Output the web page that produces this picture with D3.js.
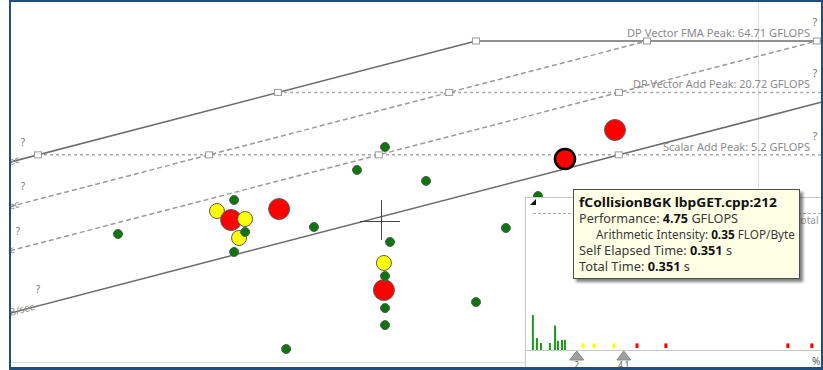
<!DOCTYPE html>
<html><head><meta charset="utf-8">
<script src="https://cdn.jsdelivr.net/npm/d3@7"></script>
<style>body{margin:0;background:#fff}svg{display:block}</style>
</head><body>
<svg id="c" width="823" height="370"></svg>
<script>
// ---------------- data ----------------
const computeNames = ["DP Vector FMA Peak", "DP Vector Add Peak", "Scalar Add Peak"];
const computeValues = [64.71, 20.72, 5.2];            // GFLOPS
const memNames = ["L1 Bandwidth", "L2 Bandwidth", "L3 Bandwidth", "DRAM Bandwidth"];
const memValues = [308.7, 115.3, 43.4, 10.9];         // GB/sec
const memVisibleChars = [2, 2, 1, 5];                 // only the label tails show at the left edge

// loops (arithmetic intensity FLOP/Byte, performance GFLOPS), in drawing order
const pointAI   = [0.0472, 0.0512, 0.0555, 0.0536, 0.0675, 0.1234, 0.1234, 0.4667,
                   0.0267, 0.0521, 0.0555, 0.0521, 0.0825, 0.1057, 0.1242, 0.1573,
                   0.1278, 0.1242, 0.1242, 0.1242, 0.0703, 0.2097, 0.2491, 0.2996];
const pointPerf = [1.50, 1.23, 1.257, 0.826, 1.568, 0.261, 0.475, 9.02,
                   0.902, 1.915, 0.943, 0.606, 1.053, 3.72, 6.19, 2.92,
                   0.756, 0.356, 0.175, 0.120, 0.0707, 0.200, 1.030, 2.09];
const pointKind = ["yellow","red","yellow","yellow","red","red","yellow","red",
                   "green","green","green","green","green","green","green","green",
                   "green","green","green","green","green","green","green","green"];

// selected loop (tooltip)
const selName = "fCollisionBGK lbpGET.cpp:212";
const selPerf = 4.75, selAI = 0.35, selSelf = 0.351, selTotal = 0.351;

// histogram (bottom-right panel)
const histPos  = [0.04, 0.22, 0.40, 0.80, 1.03, 1.16, 1.34, 1.47, 2.28, 2.77, 3.66, 4.69, 5.98, 11.43, 12.5];
const histVal  = [10, 3.4, 2, 2, 7, 2.6, 2.9, 2.9, 1.6, 1.6, 1.6, 1.6, 1.6, 1.6, 1.6];
const histKind = ["green","green","green","green","green","green","green","green",
                  "yellow","yellow","yellow","red","red","red","red"];
const histMarks = [2, 4.1];
const histMarkLabels = ["2", "4.1"];

// ---------------- drawing ----------------
const svg = d3.select("#c");
const x = d3.scaleLog().domain([0.01434, 1.5368]).range([10, 822]);
const y = d3.scaleLog().domain([0.05303, 153.4]).range([362, 2]);
const fill = {green:"#0b760b", yellow:"#ffff00", red:"#ff0000"};
const font = "'Noto Sans','Open Sans',sans-serif";

const defs = svg.append("defs");
defs.append("clipPath").attr("id","plotclip").append("rect")
  .attr("x",11).attr("y",2).attr("width",811).attr("height",360);
defs.append("clipPath").attr("id","panelclip").append("rect")
  .attr("x",526).attr("y",198).attr("width",296).attr("height",168);
const f = defs.append("filter").attr("id","shadow").attr("x","-10%").attr("y","-10%").attr("width","130%").attr("height","140%");
f.append("feGaussianBlur").attr("in","SourceAlpha").attr("stdDeviation",1.5).attr("result","b");
f.append("feOffset").attr("in","b").attr("dx",3).attr("dy",3).attr("result","o");
f.append("feComponentTransfer").attr("in","o").attr("result","o2")
  .append("feFuncA").attr("type","linear").attr("slope",0.5);
const fm = f.append("feMerge"); fm.append("feMergeNode").attr("in","o2"); fm.append("feMergeNode").attr("in","SourceGraphic");

const plot = svg.append("g").attr("clip-path","url(#plotclip)");
const labels = svg.append("g");

// light vertical grid line
plot.append("line").attr("x1",758.5).attr("x2",758.5).attr("y1",2).attr("y2",200)
  .attr("stroke","#e0e0e0").attr("stroke-width",1);

const line = d3.line().x(d=>x(d[0])).y(d=>y(d[1]));
const memStyle = [{dash:null,color:"#6b6b6b",w:1.5},{dash:"5,3",color:"#9a9a9a",w:1.5},
                  {dash:"5,3",color:"#9a9a9a",w:1.5},{dash:null,color:"#6b6b6b",w:1.5}];
const compStyle = [{dash:null,color:"#6b6b6b",w:1.5},{dash:"3,3",color:"#a8a8a8",w:1.5},
                   {dash:"3,3",color:"#a8a8a8",w:1.5}];
const [aiMin, aiMax] = x.domain();

// compute roofs (horizontal)
computeValues.forEach((p,j)=>{
  const a0 = p/memValues[0];
  plot.append("path").attr("d", line([[a0,p],[aiMax,p]]))
    .attr("fill","none").attr("stroke",compStyle[j].color).attr("stroke-width",compStyle[j].w)
    .attr("stroke-dasharray",compStyle[j].dash);
});
// memory roofs (diagonal)
memValues.forEach((bw,i)=>{
  const a1 = Math.min(computeValues[0]/bw, aiMax);
  plot.append("path").attr("d", line([[aiMin,bw*aiMin],[a1,bw*a1]]))
    .attr("fill","none").attr("stroke",memStyle[i].color).attr("stroke-width",memStyle[i].w)
    .attr("stroke-dasharray",memStyle[i].dash);
});
// intersection markers
memValues.forEach(bw=>{
  computeValues.forEach(p=>{
    const a = p/bw;
    if (a>=aiMin && a<=aiMax) {
      plot.append("rect").attr("x",x(a)-3.5).attr("y",y(p)-3).attr("width",7).attr("height",6)
        .attr("fill","#fff").attr("stroke","#999").attr("stroke-width",1);
    }
  });
});

// compute labels (right)
computeValues.forEach((p,j)=>{
  labels.append("text").attr("x",810).attr("y",y(p)-4).attr("text-anchor","end")
    .attr("font-family",font).attr("font-size",11).attr("fill","#8a8a8a")
    .attr("textLength",[183,177,147][j]).attr("lengthAdjust","spacingAndGlyphs")
    .text(`${computeNames[j]}: ${p} GFLOPS`);
  labels.append("text").attr("x",815).attr("y",y(p)-15).attr("text-anchor","middle")
    .attr("font-family",font).attr("font-size",11).attr("fill","#777").text("?");
});
// memory labels (left edge: only their tails are visible)
const angle = Math.atan2(y(1)-y(10), x(10)-x(1))*180/Math.PI;
const memLabelEnd = [20, 20, 15, 35];
memValues.forEach((bw,i)=>{
  const ex = memLabelEnd[i];
  const ey = y(bw*x.invert(ex));
  const full = `${memNames[i]}: ${bw} GB/sec`;
  labels.append("text").attr("transform",`translate(${ex},${ey+3}) rotate(${-angle})`)
    .attr("text-anchor","end").attr("font-family",font).attr("font-size",10).attr("fill","#8a8a8a")
    .text(full.slice(-memVisibleChars[i]));
  labels.append("text").attr("x",ex+3).attr("y",ey-14).attr("text-anchor","middle")
    .attr("font-family",font).attr("font-size",10).attr("fill","#777").text("?");
});

// loops
const r = {green:4.5, yellow:7.5, red:10.5};
plot.selectAll("circle.pt").data(pointAI.map((a,i)=>({a, p:pointPerf[i], k:pointKind[i]})))
  .join("circle").attr("class","pt")
  .attr("cx",d=>x(d.a)).attr("cy",d=>y(d.p)).attr("r",d=>r[d.k])
  .attr("fill",d=>fill[d.k]).attr("stroke","#5a5a5a").attr("stroke-width",1);

// bottom edge of plot
svg.append("line").attr("x1",11).attr("x2",526).attr("y1",362.5).attr("y2",362.5).attr("stroke","#dcdcdc");

// crosshair cursor
svg.append("line").attr("x1",381.5).attr("x2",381.5).attr("y1",200).attr("y2",240).attr("stroke","#444");
svg.append("line").attr("x1",360).attr("x2",400).attr("y1",221.5).attr("y2",221.5).attr("stroke","#444");

// histogram panel
const panel = svg.append("g");
panel.append("rect").attr("x",525.5).attr("y",197.5).attr("width",300).attr("height",172)
  .attr("fill","#fff").attr("stroke","#c8c8c8");
const pg = panel.append("g").attr("clip-path","url(#panelclip)");
pg.append("path").attr("d","M530,205L536,205L536,199Z").attr("fill","#111");
pg.append("line").attr("x1",533).attr("x2",822).attr("y1",213.5).attr("y2",213.5)
  .attr("stroke","#aaa").attr("stroke-dasharray","3,2");
panel.append("text").attr("x",797).attr("y",224).attr("font-family",font).attr("font-size",10)
  .attr("fill","#999").text("total");
const hx = d3.scaleLinear().domain([0,13]).range([532,823]);
const hy = d3.scaleLinear().domain([0,10]).range([350,315]);
pg.append("line").attr("x1",526).attr("x2",822).attr("y1",350.5).attr("y2",350.5).attr("stroke","#c8c8c8");
pg.selectAll("rect.hb").data(histPos.map((p,i)=>({p, v:histVal[i], k:histKind[i]})))
  .join("rect").attr("class","hb")
  .attr("x",d=>hx(d.p)-(d.k==="green"?1:1.5)).attr("width",d=>d.k==="green"?2:3)
  .attr("y",d=>d.k==="green"?hy(d.v):hy(d.v)-1).attr("height",d=>d.k==="green"?hy(0)-hy(d.v):hy(0)-hy(d.v)-1)
  .attr("fill",d=>d.k==="green"?"#1a9a1a":fill[d.k]);
histMarks.forEach((m,i)=>{
  const cx = hx(m);
  pg.append("path").attr("d",`M${cx-7},360L${cx+7},360L${cx},351Z`).attr("fill","#a0a0a0").attr("stroke","#888");
  panel.append("text").attr("x",cx).attr("y",368).attr("text-anchor","middle")
    .attr("font-family",font).attr("font-size",8).attr("fill","#555").text(histMarkLabels[i]);
});
panel.append("text").attr("x",812).attr("y",365).attr("font-family",font).attr("font-size",10)
  .attr("fill","#555").text("%");

// selected loop
svg.append("circle").attr("cx",x(selAI)).attr("cy",y(selPerf)).attr("r",10)
  .attr("fill","#ff0000").attr("stroke","#000").attr("stroke-width",2.5);

// tooltip
const tip = svg.append("g");
tip.append("rect").attr("x",573.5).attr("y",189.5).attr("width",226).attr("height",89)
  .attr("fill","#ffffe6").attr("stroke","#505050").attr("filter","url(#shadow)");
const tipLines = [
  {x:579, w:198, parts:[[selName,true]]},
  {x:579, w:159, parts:[["Performance: ",false],[selPerf.toFixed(2),true],[" GFLOPS",false]]},
  {x:596, w:199, parts:[["Arithmetic Intensity: ",false],[selAI.toFixed(2),true],[" FLOP/Byte",false]]},
  {x:579, w:153, parts:[["Self Elapsed Time: ",false],[selSelf.toFixed(3),true],[" s",false]]},
  {x:579, w:111, parts:[["Total Time: ",false],[selTotal.toFixed(3),true],[" s",false]]}
];
tipLines.forEach((ln,i)=>{
  const t = tip.append("text").attr("x",ln.x).attr("y",207+i*16)
    .attr("font-family",font).attr("font-size",i===0?12.5:12)
    .attr("textLength",ln.w).attr("lengthAdjust","spacingAndGlyphs");
  ln.parts.forEach(([s,b])=>{
    t.append("tspan").attr("font-weight",b?"bold":"normal").attr("fill",b?"#111":"#3a3a3a").text(s);
  });
});

// outer frame
const frame = svg.append("g").attr("stroke","#1f4f7f").attr("fill","none");
frame.append("line").attr("x1",10).attr("x2",10).attr("y1",0).attr("y2",370).attr("stroke-width",2);
frame.append("line").attr("x1",9).attr("x2",823).attr("y1",1).attr("y2",1).attr("stroke-width",2);
frame.append("line").attr("x1",9).attr("x2",823).attr("y1",368.5).attr("y2",368.5).attr("stroke-width",3);
frame.append("line").attr("x1",822).attr("x2",822).attr("y1",0).attr("y2",370).attr("stroke-width",2);
</script>
</body></html>
